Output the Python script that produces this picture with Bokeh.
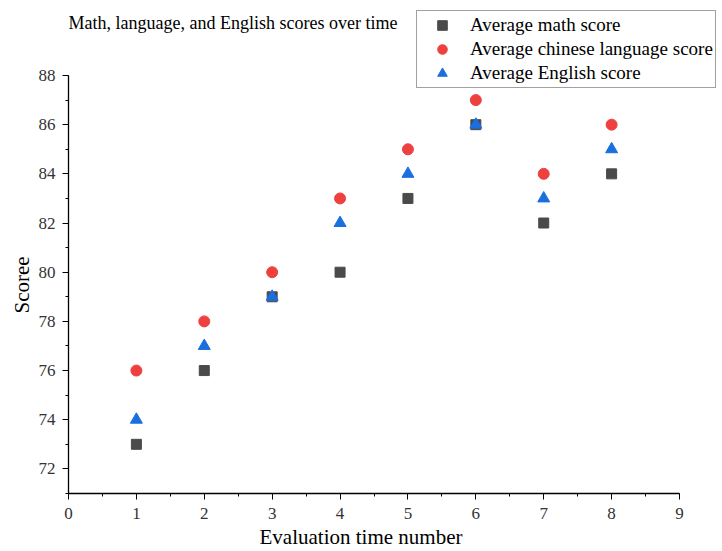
from bokeh.plotting import figure
from bokeh.models import Legend, LegendItem, Label, FixedTicker, Range1d, Title
from bokeh.embed import file_html
from bokeh.resources import INLINE

# ---- data ----
evaluation = [1, 2, 3, 4, 5, 6, 7, 8]
math_score = [73, 76, 79, 80, 83, 86, 82, 84]
chinese_score = [76, 78, 80, 83, 85, 87, 84, 86]
english_score = [74, 77, 79, 82, 84, 86, 83, 85]
x_ticks = [0, 1, 2, 3, 4, 5, 6, 7, 8, 9]
y_ticks = [72, 74, 76, 78, 80, 82, 84, 86, 88]
title_text = "Math, language, and English scores over time"
x_label = "Evaluation time number"
y_label = "Scoree"

FONT = "Liberation Serif"

# axis extents shown in the chart
X0, X1 = 0, 9
Y0, Y1 = 71, 88
# layout (pixels): axes box 68..679 x 75..493 in a 722x551 canvas.
# The frame is extended to the top/right canvas edge so the legend (which
# sits partly above the axes) is not clipped; axes are limited via bounds.
AX_W, AX_H = 611, 418
x_end = X1 + 43 * (X1 - X0) / AX_W
y_end = Y1 + 75 * (Y1 - Y0) / AX_H

p = figure(width=722, height=551, output_backend="svg", toolbar_location=None,
           x_range=Range1d(X0, x_end), y_range=Range1d(Y0, y_end),
           min_border_left=68, min_border_right=0, min_border_top=0, min_border_bottom=58)
p.outline_line_color = None
p.grid.visible = False
p.background_fill_color = "white"
p.border_fill_color = "white"

r_math = p.scatter(evaluation, math_score, marker="square", size=10,
                   fill_color="#4a4a4a", line_color="#4a4a4a")
r_chi = p.scatter(evaluation, chinese_score, marker="circle", size=11,
                  fill_color="#ef4040", line_color="#ef4040")
r_eng = p.scatter(evaluation, english_score, marker="triangle", size=12,
                  fill_color="#1a6fdf", line_color="#1a6fdf")

for ax in (p.xaxis[0], p.yaxis[0]):
    ax.axis_line_color = "black"
    ax.axis_line_width = 1.3
    ax.major_tick_line_color = "black"
    ax.minor_tick_line_color = "black"
    ax.major_tick_in = 0
    ax.major_tick_out = 6
    ax.minor_tick_in = 0
    ax.minor_tick_out = 3
    ax.major_label_text_font = FONT
    ax.major_label_text_font_size = "17px"
    ax.major_label_text_color = "#333333"

p.xaxis[0].bounds = (X0, X1)
p.yaxis[0].bounds = (Y0, Y1)
p.xaxis[0].ticker = FixedTicker(ticks=x_ticks, minor_ticks=[i * 0.5 for i in range(0, 19)])
p.yaxis[0].ticker = FixedTicker(ticks=y_ticks, minor_ticks=list(range(71, 89)))
p.xaxis[0].major_label_standoff = 8
p.yaxis[0].major_label_standoff = 7

# axis titles, positioned along the bounded axes (not the extended frame)
xt = Title(text=x_label, align="left", offset=191, standoff=3,
           text_font=FONT, text_font_size="21px", text_font_style="normal",
           text_color="black")
p.add_layout(xt, "below")
yt = Title(text=y_label, align="left", offset=180, standoff=3,
           text_font=FONT, text_font_size="21px", text_font_style="normal",
           text_color="black")
p.add_layout(yt, "left")

legend = Legend(items=[
    LegendItem(label="Average math score", renderers=[r_math]),
    LegendItem(label="Average chinese language score", renderers=[r_chi]),
    LegendItem(label="Average English score", renderers=[r_eng]),
], location=(348, 405))
legend.padding = 2
legend.margin = 0
legend.spacing = 0
legend.glyph_width = 46
legend.glyph_height = 24
legend.label_height = 24
legend.label_standoff = 5
legend.label_text_font = FONT
legend.label_text_font_size = "19px"
legend.label_text_color = "black"
legend.border_line_color = "#444444"
legend.border_line_width = 1.3
legend.background_fill_alpha = 1
p.add_layout(legend, "center")

title = Label(x=0, y=471, x_units="screen", y_units="screen", text=title_text,
              text_font=FONT, text_font_size="18px", text_baseline="alphabetic",
              text_align="left", text_color="black")
p.add_layout(title)

open("out.html", "w").write(file_html(p, INLINE))
